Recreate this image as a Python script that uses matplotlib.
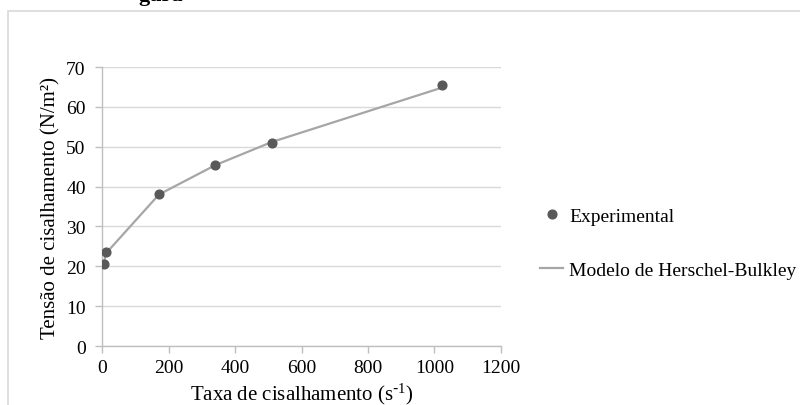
import matplotlib
matplotlib.use("Agg")
import matplotlib.pyplot as plt
from matplotlib.lines import Line2D
from matplotlib.patches import Rectangle

# data
taxa = [5.11, 10.22, 170.3, 340.6, 510.9, 1021.8]
tensao_exp = [20.7, 23.5, 38.2, 45.3, 51.0, 65.4]
tensao_modelo = [21.0, 23.2, 38.0, 45.4, 51.2, 64.8]
xticks = [0, 200, 400, 600, 800, 1000, 1200]
yticks = [0, 10, 20, 30, 40, 50, 60, 70]

plt.rcParams["font.family"] = ["Liberation Serif", "DejaVu Serif"]
plt.rcParams["mathtext.default"] = "regular"

fig = plt.figure(figsize=(8, 4.06), dpi=100)
ax = fig.add_axes([0.128, 0.1453, 0.498, 0.6872])

# chart frame (cropped at right/bottom like the source)
fig.patches.append(Rectangle((8 / 800, -0.1), 1.2, 1 - 12 / 406 + 0.1, transform=fig.transFigure,
                             fill=False, edgecolor="#d9d9d9", linewidth=1.2))
fig.text(138 / 800, 1 - 1 / 406, "gura", fontsize=16, fontweight="bold", va="baseline")

ax.plot(taxa, tensao_modelo, color="#a6a6a6", linewidth=1.6, zorder=2)
ax.plot(taxa, tensao_exp, "o", color="#595959", markersize=6.3, zorder=3)

ax.set_xlim(0, 1200); ax.set_ylim(0, 70)
ax.set_xticks(xticks); ax.set_yticks(yticks)
ax.grid(axis="y", color="#d9d9d9", linewidth=1.0)
ax.set_axisbelow(True)
for s in ("top", "right"):
    ax.spines[s].set_visible(False)
for s in ("left", "bottom"):
    ax.spines[s].set_color("#bfbfbf"); ax.spines[s].set_linewidth(1.0)
ax.tick_params(colors="#bfbfbf", labelcolor="black", labelsize=14, length=5, width=1.0)
ax.tick_params(axis="y", pad=7)
ax.tick_params(axis="x", pad=4)
ax.set_xlabel(r"Taxa de cisalhamento (s$^{\text{-}1}$)", fontsize=15, labelpad=4)
ax.set_ylabel("Tensão de cisalhamento (N/m²)", fontsize=15, labelpad=4)

handles = [Line2D([], [], marker="o", linestyle="none", color="#595959", markersize=6.3),
           Line2D([], [], color="#a6a6a6", linewidth=1.6)]
fig.legend(handles, ["Experimental", "Modelo de Herschel-Bulkley"], loc="upper left",
           bbox_to_anchor=(540 / 800, 1 - 208 / 406), frameon=False, fontsize=14,
           labelspacing=1.9, handlelength=1.2, handletextpad=0.3, borderpad=0, borderaxespad=0)

fig.savefig("out.png", dpi=100)
